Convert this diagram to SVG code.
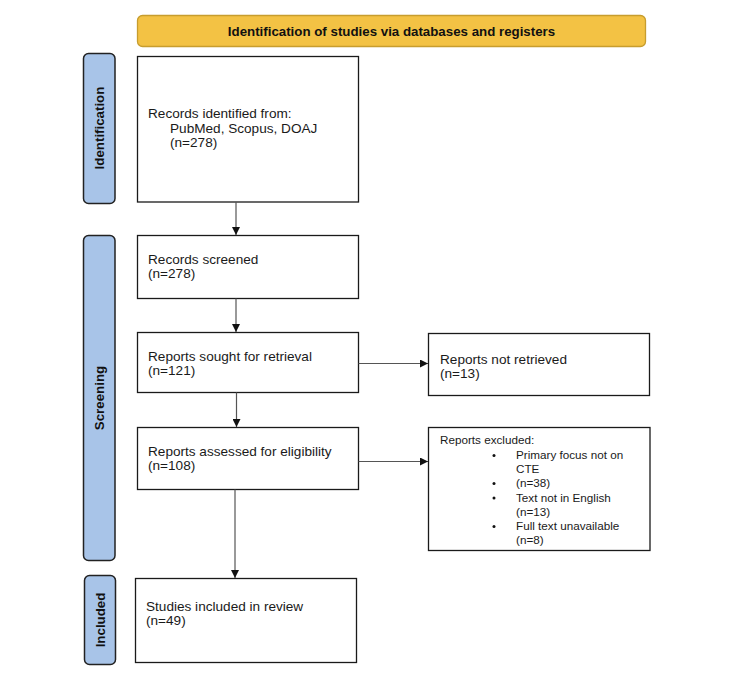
<svg xmlns="http://www.w3.org/2000/svg" width="737" height="684" viewBox="0 0 737 684">
<style>
  .box { fill: #ffffff; stroke: #1a1a1a; stroke-width: 1.3; }
  .side { fill: #A8C4E8; stroke: #222222; stroke-width: 1.5; }
  .title { fill: #F3C244; stroke: #C79D2E; stroke-width: 1.3; }
  .t { font-family: "Liberation Sans", Arial, sans-serif; font-size: 13.6px; fill: #1a1a1a; }
  .s { font-family: "Liberation Sans", Arial, sans-serif; font-size: 11.7px; fill: #1a1a1a; }
  .b { font-family: "Liberation Sans", Arial, sans-serif; font-weight: bold; fill: #111111; }
  .conn { stroke: #555555; stroke-width: 1.2; fill: none; marker-end: url(#arr); }
</style>
<defs>
  <marker id="arr" viewBox="0 0 10 10" refX="10" refY="5" markerWidth="8" markerHeight="8" markerUnits="userSpaceOnUse" orient="auto">
    <path d="M0,0 L10,5 L0,10 z" fill="#111111"/>
  </marker>
</defs>
<rect width="737" height="684" fill="#ffffff"/>

<g id="title">
  <rect class="title" x="137.5" y="15.5" width="508" height="31" rx="5"/>
  <text class="b" x="391.5" y="36" font-size="13.3" text-anchor="middle">Identification of studies via databases and registers</text>
</g>

<g id="side-identification">
  <rect class="side" x="83.5" y="53.5" width="31.5" height="150" rx="5"/>
  <text class="b" font-size="13.3" transform="translate(104,128) rotate(-90)" text-anchor="middle">Identification</text>
</g>
<g id="side-screening">
  <rect class="side" x="83.5" y="235.5" width="31.5" height="325" rx="5"/>
  <text class="b" font-size="13.3" transform="translate(104,398) rotate(-90)" text-anchor="middle">Screening</text>
</g>
<g id="side-included">
  <rect class="side" x="84.5" y="575.5" width="31" height="89" rx="5"/>
  <text class="b" font-size="13.3" transform="translate(104.5,620) rotate(-90)" text-anchor="middle">Included</text>
</g>

<g id="identified">
  <rect class="box" x="137.5" y="56.5" width="221" height="145.5"/>
  <text class="t" x="148" y="118">Records identified from:</text>
  <text class="t" x="170" y="133">PubMed, Scopus, DOAJ</text>
  <text class="t" x="170" y="147">(n=278)</text>
</g>
<g id="screened">
  <rect class="box" x="137.5" y="235.5" width="221" height="63"/>
  <text class="t" x="148" y="264">Records screened</text>
  <text class="t" x="148" y="278">(n=278)</text>
</g>
<g id="sought">
  <rect class="box" x="137.5" y="332.5" width="221" height="60"/>
  <text class="t" x="148" y="361">Reports sought for retrieval</text>
  <text class="t" x="148" y="375">(n=121)</text>
</g>
<g id="notretrieved">
  <rect class="box" x="428.5" y="333.5" width="221" height="62"/>
  <text class="t" x="440" y="364">Reports not retrieved</text>
  <text class="t" x="440" y="378">(n=13)</text>
</g>
<g id="assessed">
  <rect class="box" x="137.5" y="427.5" width="221" height="62"/>
  <text class="t" x="148" y="456">Reports assessed for eligibility</text>
  <text class="t" x="148" y="470">(n=108)</text>
</g>
<g id="excluded">
  <rect class="box" x="428.5" y="427.5" width="221.5" height="123"/>
  <text class="s" x="440" y="444">Reports excluded:</text>
  <circle cx="494" cy="455.5" r="1.5" fill="#111"/>
  <text class="s" x="516" y="459">Primary focus not on</text>
  <text class="s" x="516" y="473">CTE</text>
  <circle cx="494" cy="483.5" r="1.5" fill="#111"/>
  <text class="s" x="516" y="487">(n=38)</text>
  <circle cx="494" cy="498" r="1.5" fill="#111"/>
  <text class="s" x="516" y="502">Text not in English</text>
  <text class="s" x="516" y="516">(n=13)</text>
  <circle cx="494" cy="526.5" r="1.5" fill="#111"/>
  <text class="s" x="516" y="530">Full text unavailable</text>
  <text class="s" x="516" y="544">(n=8)</text>
</g>
<g id="included">
  <rect class="box" x="135.5" y="578.5" width="221" height="84"/>
  <text class="t" x="146" y="611">Studies included in review</text>
  <text class="t" x="146" y="625">(n=49)</text>
</g>

<g id="connectors">
  <line class="conn" x1="236" y1="202" x2="236" y2="235"/>
  <line class="conn" x1="236" y1="298.5" x2="236" y2="332"/>
  <line class="conn" x1="236.5" y1="392.5" x2="236.5" y2="427"/>
  <line class="conn" x1="235" y1="489.5" x2="235" y2="578"/>
  <line class="conn" x1="358.5" y1="363.5" x2="428" y2="363.5"/>
  <line class="conn" x1="358.5" y1="461.5" x2="428" y2="461.5"/>
</g>
</svg>
